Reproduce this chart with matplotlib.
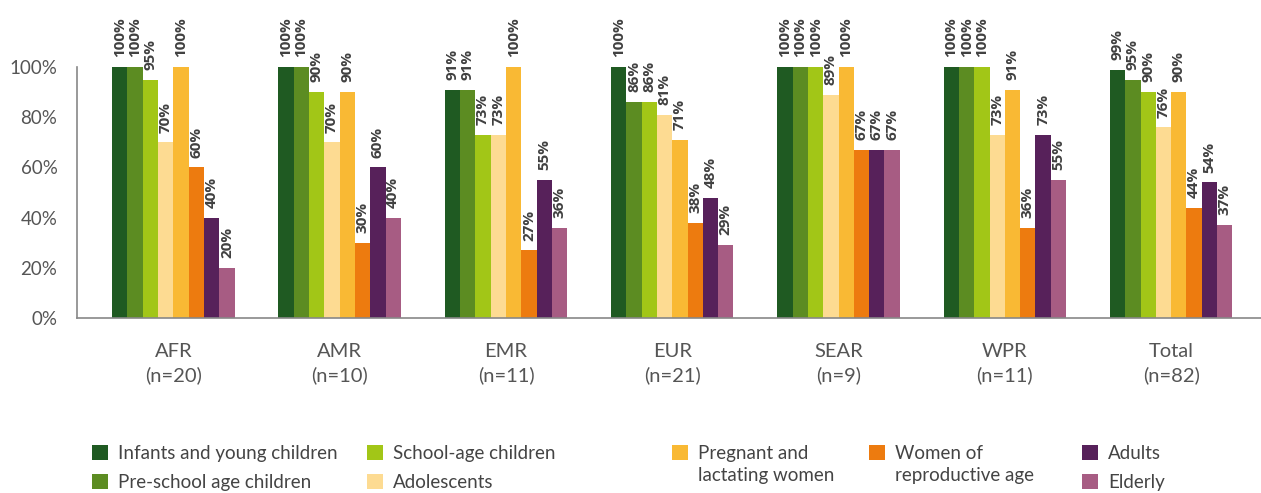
import matplotlib.pyplot as plt
from matplotlib.patches import Patch
import numpy as np

regions = ["AFR\n(n=20)", "AMR\n(n=10)", "EMR\n(n=11)", "EUR\n(n=21)",
           "SEAR\n(n=9)", "WPR\n(n=11)", "Total\n(n=82)"]

groups = ["Infants and young children", "Pre-school age children",
          "School-age children", "Adolescents",
          "Pregnant and\nlactating women", "Women of\nreproductive age",
          "Adults", "Elderly"]

# one list per population group, values per region (%)
infants = [100, 100, 91, 100, 100, 100, 99]
preschool = [100, 100, 91, 86, 100, 100, 95]
school_age = [95, 90, 73, 86, 100, 100, 90]
adolescents = [70, 70, 73, 81, 89, 73, 76]
pregnant = [100, 90, 100, 71, 100, 91, 90]
women = [60, 30, 27, 38, 67, 36, 44]
adults = [40, 60, 55, 48, 67, 73, 54]
elderly = [20, 40, 36, 29, 67, 55, 37]

series = [infants, preschool, school_age, adolescents, pregnant, women, adults, elderly]
colors = ["#1f5a22", "#5c8c22", "#a2c617", "#fddb92",
          "#f9b934", "#ed7b0f", "#57215a", "#a75c83"]

fig = plt.figure(figsize=(12.61, 4.93), dpi=100)
ax = fig.add_axes([0.061, 0.355, 0.939, 0.509])

x = np.arange(len(regions))
w = 0.092
bars = []
for i, (vals, c) in enumerate(zip(series, colors)):
    pos = x + (i - 3.5) * w
    b = ax.bar(pos, vals, width=w, color=c, label=groups[i])
    bars.append(b)
    for px, v in zip(pos, vals):
        ax.annotate(f"{v}%", (px, v), xytext=(0, 7), textcoords="offset points",
                    rotation=90, ha="center", va="bottom", fontsize=11,
                    fontweight="bold", color="#404040", family="Open Sans")

ax.set_ylim(0, 100)
ax.set_xlim(-0.58, 6.54)
ax.set_yticks(range(0, 101, 20))
ax.set_yticklabels([f"{t}%" for t in range(0, 101, 20)])
ax.set_xticks(x)
ax.set_xticklabels(regions, linespacing=1.45)
ax.tick_params(axis="y", length=0, labelsize=13.5, colors="#555555", pad=14)
ax.tick_params(axis="x", length=0, labelsize=14.5, colors="#555555", pad=18)
for lab in ax.get_xticklabels() + ax.get_yticklabels():
    lab.set_family("Lato")
for s in ["top", "right"]:
    ax.spines[s].set_visible(False)
for s in ["left", "bottom"]:
    ax.spines[s].set_color("#888888")
    ax.spines[s].set_linewidth(1.2)

# legend in five separate blocks like the original layout
blank = Patch(facecolor="none", edgecolor="none")
blocks = [
    ([bars[0], bars[1]], [groups[0], groups[1]], 0.073, 0.65),
    ([bars[2], bars[3]], [groups[2], groups[3]], 0.291, 0.65),
    ([bars[4], blank], groups[4].split("\n"), 0.533, 0.3),
    ([bars[5], blank], groups[5].split("\n"), 0.689, 0.3),
    ([bars[6], bars[7]], [groups[6], groups[7]], 0.858, 0.65),
]
for handles, labels, xpos, spacing in blocks:
    leg = fig.legend(handles, labels, loc="upper left", bbox_to_anchor=(xpos, 0.098),
                     frameon=False, handlelength=0.85, handleheight=0.85,
                     handletextpad=0.55, labelspacing=spacing, borderpad=0,
                     borderaxespad=0, prop={"family": "Lato", "size": 13.5})
    for t in leg.get_texts():
        t.set_color("#444444")

fig.savefig("out.png", dpi=100)
